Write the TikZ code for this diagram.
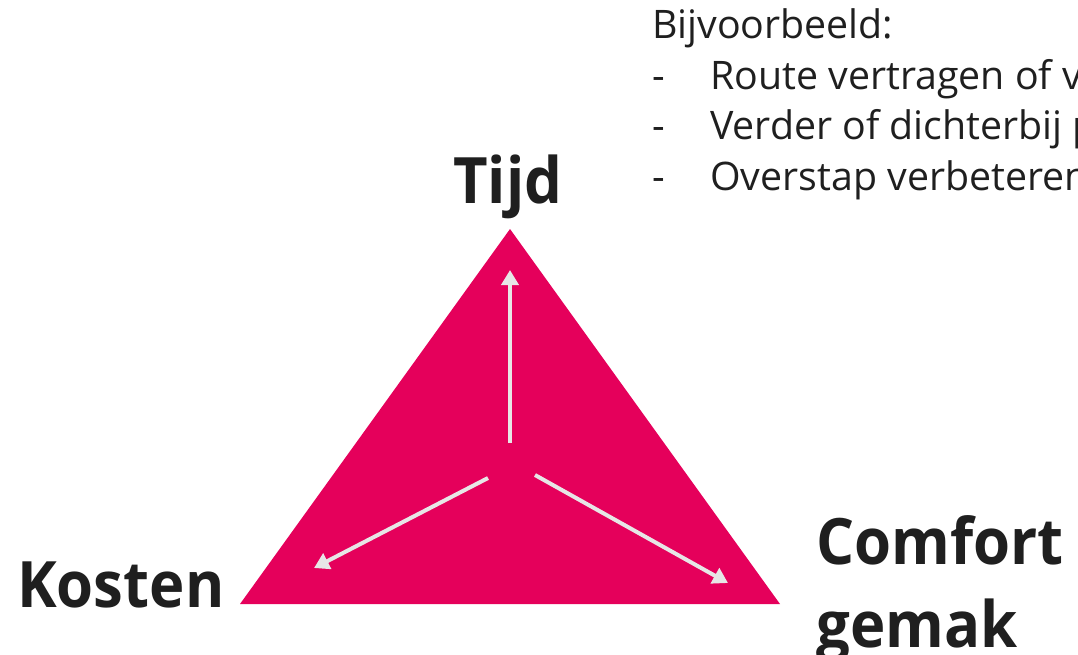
\documentclass[tikz,border=0pt]{standalone}
\usepackage{fontspec}
\setmainfont{Open Sans}
\newfontfamily\bigfont[FakeStretch=0.935]{Open Sans}
\usetikzlibrary{arrows.meta}
\definecolor{mag}{HTML}{E5005B}
\definecolor{ink}{HTML}{1F1F1F}
\definecolor{arr}{HTML}{E7E6E6}
\tikzset{
  big/.style={font=\bigfont\fontsize{64}{70}\selectfont\bfseries, text=ink, inner sep=0pt, anchor=base west},
  small/.style={font=\fontsize{39.3}{46}\selectfont, text=ink, inner sep=0pt, anchor=base west},
  flow/.style={draw=arr, line width=4pt, -{Triangle[width=17pt,length=15pt]}}
}
\begin{document}
\begin{tikzpicture}[x=1pt,y=-1pt]
\useasboundingbox (0,0) rectangle (1078,654);
\clip (0,0) rectangle (1078,654);
\coordinate (A) at (510,229);
\coordinate (B) at (240,604);
\coordinate (C) at (780,604);
\fill[mag] (A) -- (B) -- (C) -- cycle;
\coordinate (s1) at (510,443);
\coordinate (e1) at (510,270);
\coordinate (s2) at (488,478);
\coordinate (e2) at (314,568);
\coordinate (s3) at (535,475);
\coordinate (e3) at (728,583);
\draw[flow] (s1) -- (e1);
\draw[flow] (s2) -- (e2);
\draw[flow] (s3) -- (e3);
\node[big] (tijd) at (453,203) {Tijd};
\node[big] (kosten) at (17,607) {Kosten};
\node[big] (comfort) at (816,564) {Comfort};
\node[big] (gemak) at (816,647) {gemak};
\node[small] (bv) at (652,38) {Bijvoorbeeld:};
\node[small] (d1) at (652,89) {-};
\node[small] (d2) at (652,139) {-};
\node[small] (d3) at (652,190) {-};
\node[small] (l1) at (710,89) {Route vertragen of vervroegen};
\node[small] (l2) at (710,139) {Verder of dichterbij parkeren};
\node[small] (l3) at (710,190) {Overstap verbeteren};
\end{tikzpicture}
\end{document}
